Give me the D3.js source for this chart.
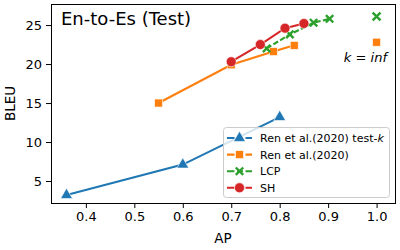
<!DOCTYPE html>
<html>
<head>
<meta charset="utf-8">
<script src="https://cdn.jsdelivr.net/npm/d3@7"></script>
<style>
  body { margin: 0; background: #fff; }
  text { font-family: "DejaVu Sans", sans-serif; fill: #000; }
</style>
</head>
<body>
<div id="drawArea"></div>
<script>
// data
var renTestK_ap   = [0.36, 0.60, 0.80];
var renTestK_bleu = [3.2, 7.1, 13.2];
var ren_ap        = [0.55, 0.70, 0.787, 0.83];
var ren_bleu      = [15.0, 19.9, 21.6, 22.4];
var lcp_ap        = [0.773, 0.821, 0.870, 0.903];
var lcp_bleu      = [22.0, 23.8, 25.3, 25.8];
var sh_ap         = [0.70, 0.76, 0.811, 0.85];
var sh_bleu       = [20.3, 22.5, 24.6, 25.2];
var infRen  = {ap: 1.0, bleu: 22.8};   // k = inf
var infLcp  = {ap: 1.0, bleu: 26.1};
var xTicks = [0.4, 0.5, 0.6, 0.7, 0.8, 0.9, 1.0];
var yTicks = [5, 10, 15, 20, 25];
var legendLabels = ["Ren et al.(2020) test-", "Ren et al.(2020)", "LCP", "SH"];

var W = 400, H = 250;
var pLeft = 51, pRight = 395, pTop = 4, pBottom = 203;

var svg = d3.select("#drawArea").append("svg")
  .attr("width", W).attr("height", H);

var x = d3.scaleLinear().domain([0.328, 1.038]).range([pLeft, pRight]);
var y = d3.scaleLinear().domain([2.18, 27.7]).range([pBottom, pTop]);

function zip(a, b) { return a.map(function(v, i){ return {x: v, y: b[i]}; }); }

var series = [
  {pts: zip(renTestK_ap, renTestK_bleu), color: "#1f77b4", marker: "tri",  dash: null},
  {pts: zip(ren_ap, ren_bleu),           color: "#ff7f0e", marker: "sq",   dash: null},
  {pts: zip(lcp_ap, lcp_bleu),           color: "#2ca02c", marker: "x",    dash: "5.5,2.4"},
  {pts: zip(sh_ap, sh_bleu),             color: "#d62728", marker: "circ", dash: null}
];

// frame
svg.append("rect").attr("x", pLeft).attr("y", pTop)
  .attr("width", pRight - pLeft).attr("height", pBottom - pTop)
  .attr("fill", "none").attr("stroke", "#000").attr("stroke-width", 1)
  .attr("shape-rendering", "crispEdges");

// axes
var gx = svg.append("g").attr("transform", "translate(0," + pBottom + ")")
  .call(d3.axisBottom(x).tickValues(xTicks).tickFormat(d3.format(".1f")).tickSize(5).tickPadding(4));
var gy = svg.append("g").attr("transform", "translate(" + pLeft + ",0)")
  .call(d3.axisLeft(y).tickValues(yTicks).tickSize(5).tickPadding(4));
[gx, gy].forEach(function(g){
  g.select(".domain").remove();
  g.selectAll("text").attr("font-size", 13).attr("font-family", "DejaVu Sans").attr("fill", "#000");
  g.selectAll("line").attr("stroke", "#000");
});

function drawMarker(g, type, color, size) {
  var s = size || 8;
  if (type === "tri") {
    g.append("path").attr("d", d3.symbol().type(d3.symbolTriangle).size(s * s * 0.75)())
      .attr("fill", color).attr("stroke", "#fff").attr("stroke-width", 0.6);
  } else if (type === "sq") {
    g.append("rect").attr("x", -s/2 + 0.5).attr("y", -s/2 + 0.5).attr("width", s - 1).attr("height", s - 1)
      .attr("fill", color).attr("stroke", "#fff").attr("stroke-width", 0.6);
  } else if (type === "circ") {
    g.append("circle").attr("r", s/2 + 0.5)
      .attr("fill", color).attr("stroke", "#fff").attr("stroke-width", 0.6);
  } else if (type === "x") {
    var h = s/2 - 0.8;
    g.append("path").attr("d", "M" + (-h) + "," + (-h) + "L" + h + "," + h + "M" + (-h) + "," + h + "L" + h + "," + (-h))
      .attr("stroke", color).attr("stroke-width", 2.4).attr("fill", "none");
  } else if (type === "X") {
    // filled X (matplotlib 'X')
    var r = s / 2, w = s * 0.2;
    var pts = [[0, -w], [r - w, -r], [r, -r + w], [w, 0], [r, r - w], [r - w, r],
               [0, w], [-r + w, r], [-r, r - w], [-w, 0], [-r, -r + w], [-r + w, -r]];
    g.append("path").attr("d", "M" + pts.map(function(p){ return p.join(","); }).join("L") + "Z")
      .attr("fill", color).attr("stroke", "#fff").attr("stroke-width", 0.5);
  }
}

var line = d3.line().x(function(d){ return x(d.x); }).y(function(d){ return y(d.y); });

var plot = svg.append("g");
series.forEach(function(s) {
  plot.append("path").datum(s.pts).attr("d", line)
    .attr("fill", "none").attr("stroke", s.color).attr("stroke-width", 2.1)
    .attr("stroke-dasharray", s.dash);
  s.pts.forEach(function(p) {
    var g = plot.append("g").attr("transform", "translate(" + x(p.x) + "," + y(p.y) + ")");
    drawMarker(g, s.marker, s.color, 9);
  });
});

// k = inf points
drawMarker(plot.append("g").attr("transform", "translate(" + x(infLcp.ap) + "," + y(infLcp.bleu) + ")"), "X", "#2ca02c", 10);
drawMarker(plot.append("g").attr("transform", "translate(" + x(infRen.ap) + "," + y(infRen.bleu) + ")"), "sq", "#ff7f0e", 9);

var kt = svg.append("text").attr("x", 387).attr("y", 62).attr("text-anchor", "end").attr("font-size", 13);
kt.append("tspan").attr("font-style", "italic").text("k");
kt.append("tspan").text(" = ");
kt.append("tspan").attr("font-style", "italic").text("inf");

// title
svg.append("text").attr("x", 61).attr("y", 25).attr("font-size", 18).text("En-to-Es (Test)");

// axis labels
svg.append("text").attr("x", (pLeft + pRight) / 2).attr("y", 243).attr("text-anchor", "middle")
  .attr("font-size", 13.5).text("AP");
svg.append("text").attr("transform", "translate(15," + ((pTop + pBottom) / 2) + ") rotate(-90)")
  .attr("text-anchor", "middle").attr("font-size", 13.5).text("BLEU");

// legend
var lg = svg.append("g");
lg.append("rect").attr("x", 223.5).attr("y", 127.5).attr("width", 166).attr("height", 70)
  .attr("rx", 3).attr("fill", "#fff").attr("fill-opacity", 0.8)
  .attr("stroke", "#ccc").attr("stroke-width", 1);
series.forEach(function(s, i) {
  var yy = 138 + i * 16.6;
  lg.append("line").attr("x1", 227).attr("x2", 252).attr("y1", yy).attr("y2", yy)
    .attr("stroke", s.color).attr("stroke-width", 2.1).attr("stroke-dasharray", "7.5,2.5,6,2.5,7.5");
  drawMarker(lg.append("g").attr("transform", "translate(239.5," + yy + ")"), s.marker, s.color, 9);
  var t = lg.append("text").attr("x", 260).attr("y", yy + 4).attr("font-size", 11).text(legendLabels[i]);
  if (i === 0) t.append("tspan").attr("font-style", "italic").text("k");
});
</script>
</body>
</html>
